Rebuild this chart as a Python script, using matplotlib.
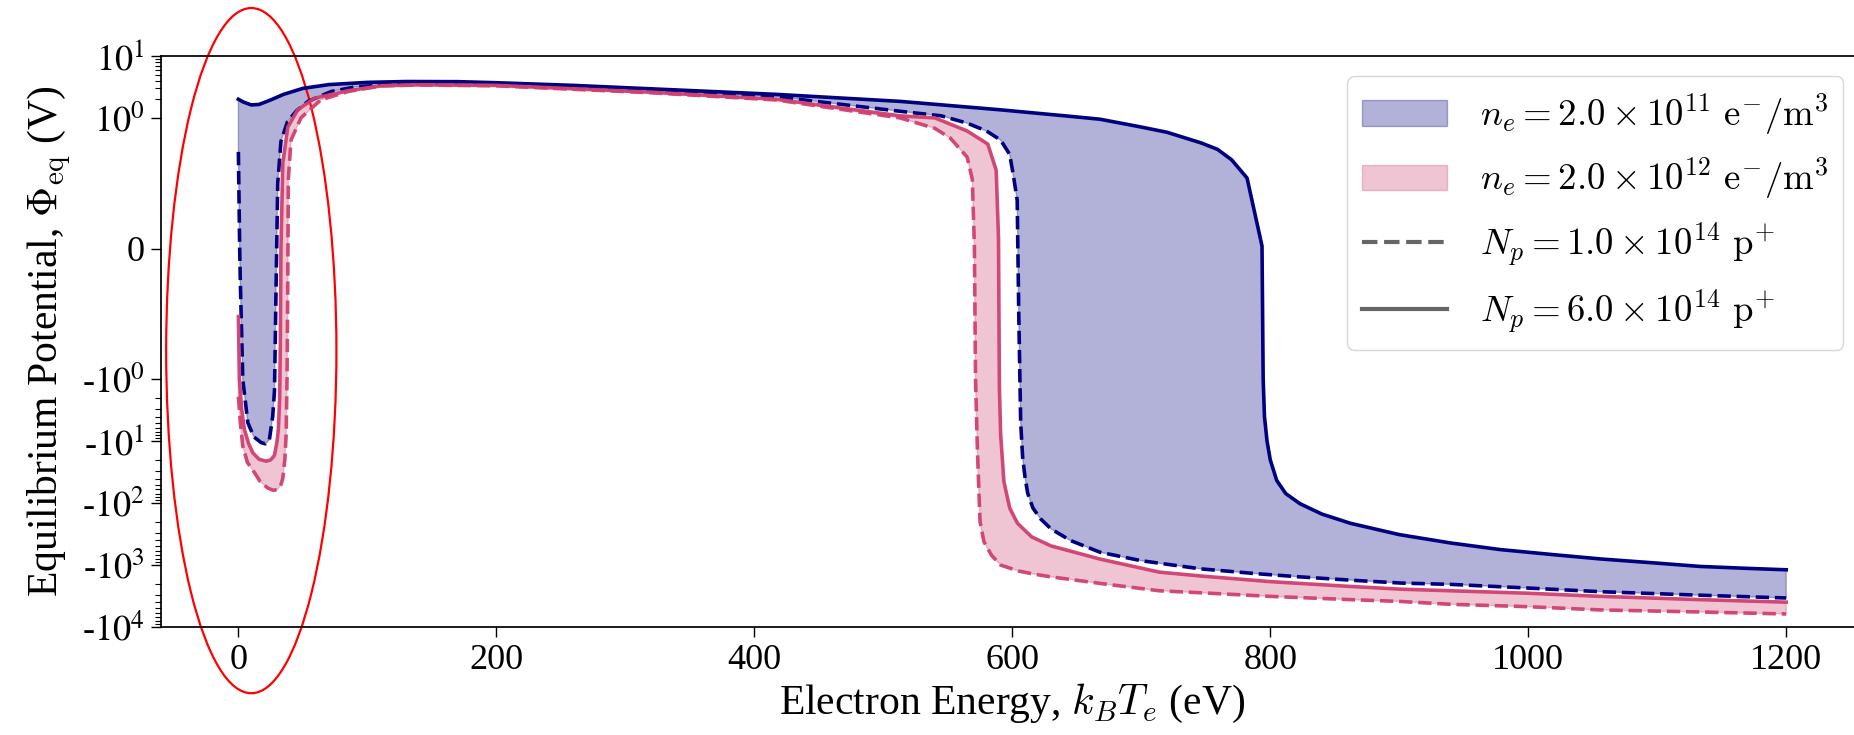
import numpy as np
import matplotlib
matplotlib.use("Agg")
import matplotlib.pyplot as plt
from matplotlib.patches import Ellipse
from matplotlib.lines import Line2D
from matplotlib.transforms import blended_transform_factory

plt.rcParams['font.family'] = ['Liberation Serif', 'DejaVu Serif']
plt.rcParams['mathtext.fontset'] = 'cm'

# ---- data: ne = 2e11, Np = 6e14 (navy solid)
x_a = [0, 4, 10, 16, 25, 35, 50, 70, 100, 130, 170, 200, 260, 320, 417, 513, 591, 643, 668, 700,
       720, 746, 759, 770, 782, 793.6, 794.5, 795.5, 797.5, 800, 805, 812, 823, 840, 862, 900,
       940, 978, 1020, 1056, 1100, 1133, 1170, 1200]
y_a = [2.0, 1.8, 1.62, 1.65, 1.95, 2.4, 3.0, 3.45, 3.75, 3.87, 3.85, 3.7, 3.35, 2.95, 2.4, 1.85, 1.35, 1.07, 0.99, 0.93,
       0.89, 0.81, 0.76, 0.68, 0.54, 0.02, -1.0, -4.0, -10, -20, -43, -70, -102, -150, -211, -322,
       -440, -561, -680, -796, -930, -1051, -1130, -1191]
# ---- ne = 2e11, Np = 1e14 (navy dashed)
x_b = [0, 1.0, 1.5, 3.4, 7.3, 12, 17.6, 21, 24, 26.6, 28, 29.2, 30.5, 33, 38, 45, 54, 72, 90, 111,
       140, 200, 320, 417, 513, 545, 565, 580, 591, 598, 601, 603.8, 605, 606.5, 608, 610, 612, 616,
       622, 630, 645, 668, 700, 746, 790, 823, 862, 901, 940, 1000, 1056, 1130, 1200]
y_b = [0.74, 0.0, -0.25, -1.0, -5.0, -8.5, -10.5, -11, -9.5, -4.0, -1.5, -0.3, 0.5, 0.82, 0.97, 1.3, 1.85, 2.67, 3.15, 3.42,
       3.55, 3.5, 2.8, 2.2, 1.28, 1.08, 0.96, 0.9, 0.83, 0.72, 0.55, 0.37, -0.49, -5, -18, -40, -70, -120,
       -180, -260, -400, -620, -850, -1150, -1380, -1550, -1750, -1950, -2050, -2350, -2690, -3050, -3400]
# ---- ne = 2e12, Np = 6e14 (pink solid)
x_c = [0, 0.8, 2.5, 4.6, 8, 11.2, 16, 21.5, 25, 27.9, 30, 31, 32, 32.5, 33, 34.4, 38.3, 46, 59, 85,
       111, 140, 200, 320, 417, 513, 540, 565, 581, 587.5, 589.3, 590, 591, 593.5, 598, 604, 615,
       630, 668, 714, 746, 800, 860, 901, 940, 1000, 1056, 1130, 1200]
y_c = [-0.52, -1.0, -3, -6.4, -11, -15.4, -19.5, -21, -20, -17, -10, -6.4, -2, -0.75, 0.0, 0.65, 0.93, 1.35, 2.08, 2.75,
       3.3, 3.42, 3.35, 2.6, 2.0, 1.08, 1.0, 0.9, 0.8, 0.6, 0.08, -1.4, -8, -45, -120, -211, -350,
       -490, -800, -1300, -1500, -1850, -2200, -2450, -2600, -2850, -3200, -3600, -3970]
# ---- ne = 2e12, Np = 1e14 (pink dashed)
x_d = [0, 1.5, 3.4, 7, 12.4, 17, 22.8, 27, 30.5, 33, 34.4, 36, 37, 37.7, 38.3, 38.7, 40.8, 48.6, 64, 85,
       111, 140, 200, 320, 417, 513, 540, 552, 565, 569, 570.6, 571.5, 573, 575, 578, 584, 591, 605,
       617, 630, 670, 714, 746, 800, 860, 901, 940, 1000, 1056, 1130, 1200]
y_d = [-1.9, -5, -12, -22, -32, -45, -57, -62, -60, -50, -40, -20, -8, -1.0, -0.24, 0.53, 0.83, 1.01, 1.96, 2.67,
       3.3, 3.4, 3.3, 2.55, 1.95, 1.0, 0.92, 0.845, 0.70, 0.53, 0.02, -1.0, -15, -200, -420, -700, -1000, -1250,
       -1400, -1550, -2000, -2600, -2800, -3200, -3600, -3870, -4300, -4700, -5300, -5700, -6160]

labels_ne = [r'$n_e = 2.0 \times 10^{11}\ \mathrm{e^{-}/m^{3}}$',
             r'$n_e = 2.0 \times 10^{12}\ \mathrm{e^{-}/m^{3}}$']
labels_np = [r'$N_p = 1.0 \times 10^{14}\ \mathrm{p^{+}}$',
             r'$N_p = 6.0 \times 10^{14}\ \mathrm{p^{+}}$']
ytick_vals = [10, 1, 0, -1, -10, -100, -1000, -10000]
ytick_labels = [r'$10^{1}$', r'$10^{0}$', '0', r'-$10^{0}$', r'-$10^{1}$', r'-$10^{2}$',
                r'-$10^{3}$', r'-$10^{4}$']
xtick_vals = [0, 200, 400, 600, 800, 1000, 1200]

navy = '#000080'
pink = '#D04170'

fig = plt.figure(figsize=(18.54, 7.35), dpi=100)
ax = fig.add_axes([161 / 1854, 108 / 735, 1702.6 / 1854, 571 / 735])
ax.set_yscale('symlog', linthresh=1, linscale=1.9)

ax.fill(np.concatenate([x_a, x_b[::-1]]), np.concatenate([y_a, y_b[::-1]]),
        color=navy, alpha=0.3, label=labels_ne[0])
ax.fill(np.concatenate([x_c, x_d[::-1]]), np.concatenate([y_c, y_d[::-1]]),
        color=pink, alpha=0.3, label=labels_ne[1])
lw = 2.6
ax.plot(x_a, y_a, color=navy, lw=lw)
ax.plot(x_b, y_b, color=navy, lw=lw, ls='--')
ax.plot(x_c, y_c, color=pink, lw=lw, alpha=0.95)
ax.plot(x_d, y_d, color=pink, lw=lw, ls='--', alpha=0.95)

ax.set_xlim(-60, 1260)
ax.set_ylim(-10000, 10)

ax.set_yticks(ytick_vals)
ax.set_yticklabels(ytick_labels)
minor = []
for k in range(2, 10):
    minor.append(k)
    for n in range(0, 4):
        minor.append(-k * 10 ** n)
ax.set_yticks(minor, minor=True)
ax.set_xticks(xtick_vals)
ax.set_xticklabels([str(v) for v in xtick_vals])
for t in ax.get_yticklabels() + ax.get_xticklabels():
    t.set_math_fontfamily('stix')

ax.tick_params(axis='both', which='major', labelsize=26, length=7, width=1.0, pad=5)
ax.tick_params(axis='y', which='minor', length=4, width=0.8)
for s in ax.spines.values():
    s.set_linewidth(1.25)

ax.set_xlabel(r'Electron Energy, $k_BT_e$ (eV)', fontsize=30, labelpad=4)
ax.set_ylabel(r'Equilibrium Potential, $\Phi_{\rm eq}$ (V)', fontsize=30, labelpad=6)

handles, labs = ax.get_legend_handles_labels()
handles += [Line2D([], [], color='0.4', lw=3, ls='--'), Line2D([], [], color='0.4', lw=3)]
labs += labels_np
ax.legend(handles, labs, loc='upper right', fontsize=26.5, handlelength=2.3,
          handletextpad=0.9, borderaxespad=0.55, labelspacing=0.52)

tr = blended_transform_factory(ax.transData, ax.transAxes)
ell = Ellipse((10, 0.484), width=132, height=1.2, transform=tr, fill=False,
              edgecolor='red', lw=1.6, clip_on=False)
ax.add_patch(ell)

fig.savefig('out.png', dpi=100)
